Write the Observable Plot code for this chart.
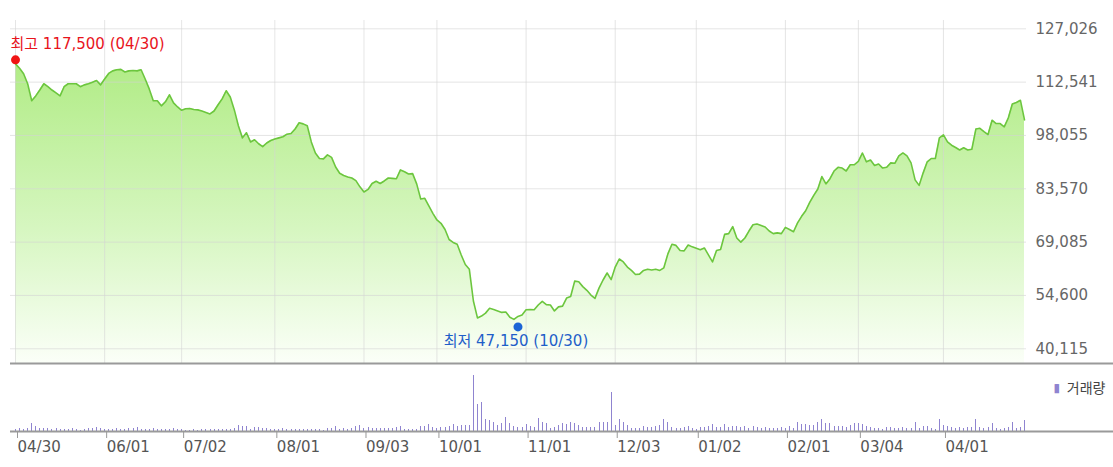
<!DOCTYPE html>
<html><head><meta charset="utf-8">
<script src="https://cdn.jsdelivr.net/npm/d3@7"></script>
<script src="https://cdn.jsdelivr.net/npm/@observablehq/plot@0.6"></script>
<style>
body{margin:0;background:#fff;}
#wrap{position:relative;width:1113px;height:467px;overflow:hidden;background:#fff;}
#wrap svg{position:absolute;left:0;}
</style></head><body><div id="wrap"></div>
<script>
// daily closing prices (one per trading day)
const prices = [
117500,116300,114800,112100,107500,108800,110400,112100,111300,110400,
109600,108800,111300,112100,112100,112100,111300,111800,112100,112500,
113000,111800,113400,114900,115600,115900,116000,115300,115600,115700,
115600,115900,113400,110700,107500,107500,106100,107200,109100,106900,
105800,104900,105300,105400,105100,105000,104700,104300,103900,104700,
106400,108000,110200,108500,105000,100700,97400,98800,96300,96900,
95800,95000,96000,96700,97100,97400,97700,98400,98600,99800,
101500,101200,100700,96300,93300,91800,91700,92800,92100,89500,
87800,87200,86800,86500,85800,84100,82700,83400,85000,85600,
85000,85700,86500,86400,86300,88700,88200,87600,87700,84900,
80800,81000,78900,76900,75100,74200,72500,69800,69000,68500,
65600,63000,61700,53100,48500,49000,49800,51100,50800,50400,
50000,50100,48700,48100,48900,49300,50700,50800,50700,52000,
53000,52100,52000,50400,51500,51700,53900,54300,58500,58300,
57000,56000,54700,53800,56600,58800,60700,58900,62300,64500,
63700,62300,61400,60300,60400,61400,61700,61500,61700,61400,
62100,65900,68500,68200,66800,66700,68300,67800,67400,67000,
67500,65600,63700,66800,67100,71200,71400,73300,70200,69100,
70200,72100,73800,74000,73600,73200,72100,71400,71600,71400,
73100,72500,71900,74300,76100,77600,79900,81800,83500,86900,
84900,86300,88400,89400,89200,88400,90100,90100,91000,93300,
90900,91400,89900,90300,89200,89400,90600,90500,92500,93300,
92500,90600,86000,84500,87900,90900,91800,91800,97400,98200,
96300,95400,94800,94100,94700,94100,94300,99800,100000,99100,
98300,102200,101300,101300,100400,102800,106600,107000,107600,102300
];
// daily trading volume
const volumes = [
20000,30000,20000,30000,80000,50000,30000,30000,30000,20000,
30000,20000,20000,20000,30000,20000,10000,20000,30000,30000,
40000,30000,20000,20000,20000,30000,20000,20000,30000,30000,
40000,20000,20000,20000,30000,20000,20000,20000,20000,30000,
20000,20000,10000,10000,20000,10000,20000,20000,20000,20000,
20000,20000,20000,20000,30000,60000,50000,50000,20000,40000,
40000,30000,30000,20000,20000,20000,30000,20000,20000,20000,
20000,20000,20000,20000,20000,20000,10000,30000,30000,50000,
20000,30000,20000,30000,50000,60000,30000,40000,30000,30000,
30000,30000,30000,30000,40000,50000,20000,20000,20000,20000,
50000,50000,70000,40000,30000,40000,40000,50000,70000,50000,
60000,60000,60000,560000,270000,290000,120000,110000,90000,60000,
80000,140000,80000,50000,40000,40000,70000,50000,40000,130000,
90000,80000,30000,40000,60000,80000,70000,90000,80000,60000,
40000,40000,40000,40000,90000,90000,90000,390000,60000,120000,
90000,60000,30000,30000,30000,50000,40000,40000,50000,60000,
120000,90000,40000,30000,30000,40000,50000,30000,20000,40000,
40000,50000,70000,40000,40000,70000,40000,50000,50000,40000,
50000,30000,50000,40000,30000,40000,30000,30000,30000,40000,
30000,50000,30000,90000,70000,70000,60000,60000,90000,120000,
80000,80000,50000,50000,50000,40000,60000,80000,80000,70000,
50000,40000,30000,30000,20000,40000,40000,30000,30000,40000,
30000,30000,90000,30000,50000,50000,30000,20000,120000,60000,
50000,40000,30000,40000,30000,40000,40000,120000,40000,30000,
40000,80000,30000,20000,30000,40000,90000,30000,40000,110000
];
const tickIndex  = [0, 22, 41, 64, 86, 104, 126, 148, 168, 190, 208, 229];
const tickLabels = ["04/30","06/01","07/02","08/01","09/03","10/01","11/01","12/03","01/02","02/01","03/04","04/01"];
const yTicks = [127026, 112541, 98055, 83570, 69085, 54600, 40115];
const high = [{i: 0, price: 117500, label: "최고 117,500 (04/30)"}];
const low  = [{i: 124, price: 47150, label: "최저 47,150 (10/30)"}];

const days = prices.map((p, i) => ({i, price: p, vol: volumes[i]}));
const W = 1113, N = prices.length;
const mL = 15, mR = 89;
const xDomain = [0, N - 1];
const yDomain = [36120, 129280];
const pxPerDay = (W - mL - mR) / (N - 1);
const edge = px => (px - mL) / pxPerDay;
const labelOf = new Map(tickIndex.map((d, k) => [d, tickLabels[k]]));
const font = `"DejaVu Sans","Noto Sans CJK KR",sans-serif`;
const ns = "http://www.w3.org/2000/svg";

function gradientDefs() {
  const defs = document.createElementNS(ns, "defs");
  const g = document.createElementNS(ns, "linearGradient");
  g.setAttribute("id", "priceFill");
  g.setAttribute("x1", "0"); g.setAttribute("y1", "0");
  g.setAttribute("x2", "0"); g.setAttribute("y2", "1");
  [["0", "#b1ec86"], ["0.55", "#d6f6c0"], ["1", "#fbfff8"]].forEach(([o, c]) => {
    const s = document.createElementNS(ns, "stop");
    s.setAttribute("offset", o); s.setAttribute("stop-color", c);
    g.appendChild(s);
  });
  defs.appendChild(g);
  return defs;
}

const priceChart = Plot.plot({
  width: W, height: 366,
  marginTop: 20, marginBottom: 3, marginLeft: mL, marginRight: mR,
  x: {domain: xDomain, axis: null},
  y: {domain: yDomain, axis: null},
  style: {fontFamily: font, fontSize: "15px", background: "transparent"},
  marks: [
    gradientDefs,
    Plot.area(days, {x1: "i", y1: yDomain[0], y2: "price", fill: "url(#priceFill)"}),
    Plot.ruleX(tickIndex, {stroke: "#d4d4d4", strokeOpacity: 0.6}),
    Plot.ruleY(yTicks, {x1: edge(10), x2: edge(1026), stroke: "#d4d4d4", strokeOpacity: 0.6}),
    Plot.lineY(days, {x: "i", y: "price", stroke: "#6cc63e", strokeWidth: 1.6}),
    Plot.ruleY([yDomain[0]], {x1: edge(10), x2: edge(W), stroke: "#9a9a9a", strokeWidth: 2}),
    Plot.axisY(yTicks, {anchor: "right", label: null, tickSize: 0, tickPadding: 11, tickFormat: d3.format(","), fill: "#666", fontSize: 15}),
    Plot.dot(high, {x: "i", y: "price", r: 4.5, fill: "#f01414", dy: -4}),
    Plot.dot(low, {x: "i", y: "price", r: 4.5, fill: "#1c64d6", dy: 4}),
    Plot.text(high, {x: "i", y: "price", text: "label", textAnchor: "start", dx: -5, dy: -20, fill: "#e8141c", fontSize: 15}),
    Plot.text(low, {x: "i", y: "price", text: "label", dx: -2, dy: 18, fill: "#1f5fc9", fontSize: 15})
  ]
});

const volChart = Plot.plot({
  width: W, height: 101,
  marginTop: 9, marginBottom: 36, marginLeft: mL, marginRight: mR,
  x: {domain: xDomain, axis: null},
  y: {domain: [0, d3.max(volumes)], axis: null},
  style: {fontFamily: font, fontSize: "15px", background: "transparent"},
  marks: [
    Plot.ruleX(days, {x: "i", y1: 0, y2: "vol", stroke: "#8f84d0", strokeWidth: 1, shapeRendering: "crispEdges"}),
    Plot.ruleY([0], {x1: edge(10), x2: edge(W), stroke: "#9a9a9a", strokeWidth: 2}),
    Plot.axisX(tickIndex, {anchor: "bottom", label: null, tickSize: 7, tickPadding: 3, tickFormat: d => labelOf.get(d),
      textAnchor: "start", dx: 2, fill: "#555", stroke: "#999", fontSize: 15}),
    Plot.text(["▮"], {frameAnchor: "top-right", dx: 35.5, dy: 8, fill: "#8f84d0", fontSize: 12}),
    Plot.text(["거래량"], {frameAnchor: "top-right", dx: 81, dy: 8, textAnchor: "end", fill: "#444", fontSize: 14})
  ]
});

const wrap = document.getElementById("wrap");
priceChart.style.top = "0px";
volChart.style.top = "366px";
wrap.appendChild(priceChart);
wrap.appendChild(volChart);
</script>
</body></html>
